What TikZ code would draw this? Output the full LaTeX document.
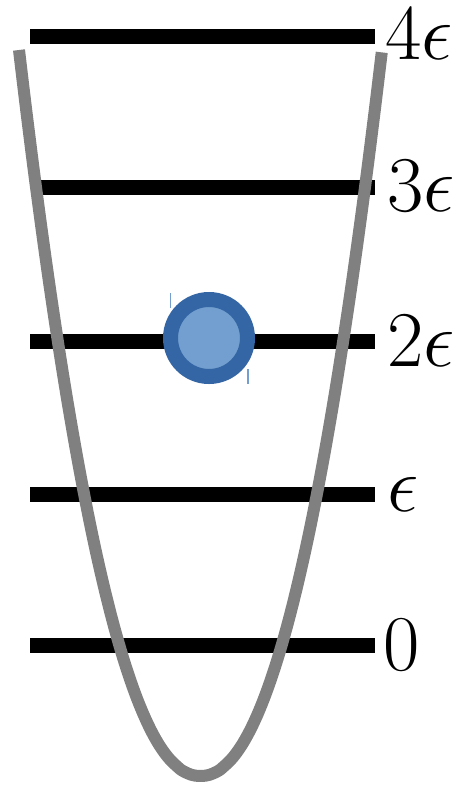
\RequirePackage{fix-cm}
\documentclass[tikz,border=0pt]{standalone}
\definecolor{wellgray}{HTML}{808080}
\definecolor{ballouter}{HTML}{3465A4}
\definecolor{ballinner}{HTML}{729FCF}
\begin{document}
\begin{tikzpicture}[x=1pt,y=-1pt,
  level/.style={line width=15pt, black},
  well/.style={line width=12pt, wellgray},
  lbl/.style={anchor=west, inner sep=0pt, font=\fontsize{79}{79}\selectfont},
  tickmark/.style={line width=1.5pt, ballinner},
  particle/.style={circle, fill=ballinner, draw=ballouter, line width=15pt, minimum size=77pt, inner sep=0pt}]
\useasboundingbox (0,0) rectangle (460,787);
% energy levels
\coordinate (a4) at (30,36);  \coordinate (b4) at (375,36);
\coordinate (a3) at (38,187); \coordinate (b3) at (375,187);
\coordinate (a2) at (30,341); \coordinate (b2) at (375,341);
\coordinate (a1) at (30,494); \coordinate (b1) at (375,494);
\coordinate (a0) at (30,645); \coordinate (b0) at (375,645);
\draw[level] (a4) -- (b4);
\draw[level] (a3) -- (b3);
\draw[level] (a2) -- (b2);
\draw[level] (a1) -- (b1);
\draw[level] (a0) -- (b0);
% labels
\node[lbl] (t4) at (385,34) {$4\epsilon$};
\node[lbl] (t3) at (387,186) {$3\epsilon$};
\node[lbl] (t2) at (387,341) {$2\epsilon$};
\node[lbl] (t1) at (387,494) {$\epsilon$};
\node[lbl] (t0) at (383,645) {$0$};
% potential well
\draw[well] plot[domain=-1:1, samples=100, smooth] ({200.5+181.5*\x}, {776-726*abs(\x)^2.13});
% particle
\draw[tickmark] (170.5,293) -- (170.5,308);
\draw[tickmark] (248,369) -- (248,384);
\node[particle] (ball) at (209,338) {};
\end{tikzpicture}
\end{document}
